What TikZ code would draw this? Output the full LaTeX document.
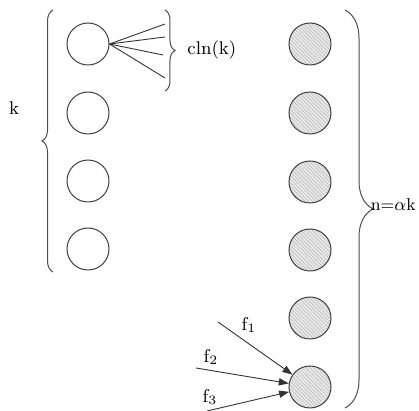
\documentclass[tikz,border=0pt]{standalone}
\usetikzlibrary{arrows.meta,decorations.pathreplacing,patterns.meta}

\tikzset{
  unit/.style={circle, draw=black!75, line width=0.5pt, minimum size=21pt, inner sep=0pt},
  hot/.style={unit, preaction={fill=black!9}, pattern={Lines[angle=-45,distance=1.3pt,line width=0.25pt]}, pattern color=black!28},
  curly/.style={draw=black!70, line width=0.5pt, decorate, decoration={brace, amplitude=#1}},
  wire/.style={draw=black!80, line width=0.45pt},
  feed/.style={wire, -{Triangle[length=5pt,width=3.6pt]}},
  lbl/.style={inner sep=0pt, font=\fontsize{9.2}{11}\selectfont}
}

\begin{document}
\begin{tikzpicture}[x=0.5pt, y=-0.5pt]
			%%%%% START %%%%%
			\useasboundingbox (0,0) rectangle (419,411);

			% left column
			\foreach \i/\y in {1/44, 2/113, 3/181, 4/249}
				\node[unit] (l\i) at (88,\y) {};

			% right column
			\foreach \i/\y in {1/44, 2/113, 3/182, 4/250, 5/318, 6/387}
				\node[hot] (r\i) at (310,\y) {};

			% fan out of the first unit
			\coordinate (c1) at (165,24);
			\coordinate (c2) at (165,37);
			\coordinate (c3) at (163,55);
			\coordinate (c4) at (165,78);
			\foreach \j in {1,...,4}
				\draw[wire] (l1.east) -- (c\j);

			% braces
			\draw[curly=5.5pt] (53,272) -- (53,10);
			\draw[curly=5pt] (165,10) -- (165,91);
			\draw[curly=14pt] (345,10) -- (345,408);

			\node[lbl] (kk) at (14,108) {k};
			\node[lbl, anchor=west] (cl) at (187,50) {cln(k)};
			\node[lbl, anchor=east, font=\fontsize{8.6}{10}\selectfont] (na) at (416,205) {n=$\alpha$k};

			% inputs of the last unit
			\coordinate (f1s) at (218,322);
			\coordinate (f2s) at (196,368);
			\coordinate (f3s) at (207,411);
			\draw[feed] (f1s) -- (r6);
			\draw[feed] (f2s) -- (r6);
			\draw[feed] (f3s) -- (r6);

			\node[lbl] (f1) at (249,325) {f\textsubscript{1}};
			\node[lbl] (f2) at (211,357) {f\textsubscript{2}};
			\node[lbl] (f3) at (210,397) {f\textsubscript{3}};
			%%%%% END %%%%%
\end{tikzpicture}
\end{document}
